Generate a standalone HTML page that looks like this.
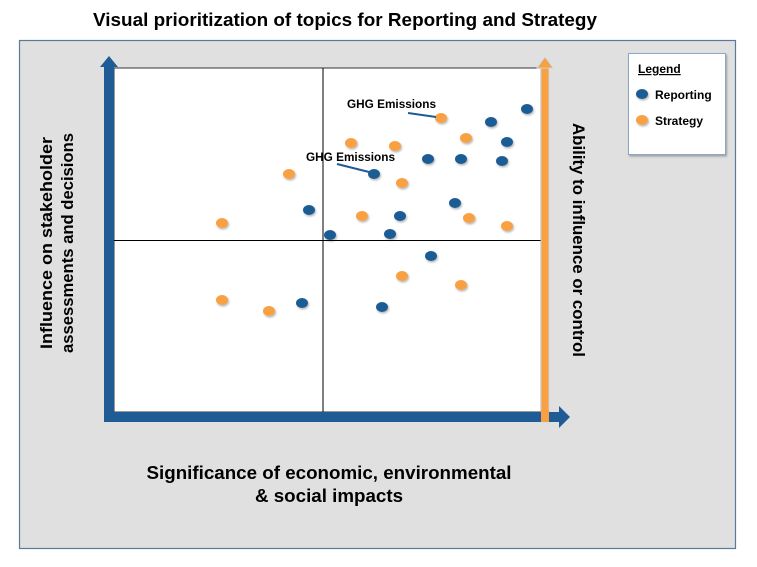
<!DOCTYPE html>
<html><head><style>
body{margin:0;background:#fff;}
svg text{font-family:"Liberation Sans",sans-serif;font-weight:bold;fill:#000;}
</style></head><body>
<svg width="757" height="562" viewBox="0 0 757 562" xmlns="http://www.w3.org/2000/svg">
<defs><filter id="sh" x="-50%" y="-50%" width="200%" height="200%"><feDropShadow dx="1" dy="1.5" stdDeviation="1" flood-color="#000" flood-opacity="0.3"/></filter></defs>
<text x="345" y="26" font-size="18.5" text-anchor="middle" textLength="504" lengthAdjust="spacingAndGlyphs">Visual prioritization of topics for Reporting and Strategy</text>
<rect x="19.5" y="40.5" width="716" height="508" fill="#e0e0e0" stroke="#5a7a9a" stroke-width="1.2"/>
<rect x="114" y="68" width="427" height="344" fill="#fff" stroke="#333" stroke-width="1"/>
<line x1="323" y1="68" x2="323" y2="412" stroke="#000" stroke-width="1"/>
<line x1="114" y1="240.5" x2="541" y2="240.5" stroke="#000" stroke-width="1"/>
<rect x="541" y="68" width="8" height="354" fill="#f9a043" stroke="#c8d8e8" stroke-width="0.8"/>
<polygon points="537,68 545,57 553,68" fill="#f9a043" stroke="#c8d8e8" stroke-width="0.8"/>
<rect x="104" y="66" width="10" height="356" fill="#1f5b94"/>
<polygon points="100,67 109,56 118,67" fill="#1f5b94"/>
<rect x="104" y="412" width="456" height="10" fill="#1f5b94"/>
<polygon points="559,406 570,417 559,428" fill="#1f5b94"/>
<rect x="541" y="410" width="8" height="12" fill="#f9a043"/>
<g filter="url(#sh)" fill="#1f5b94">
<ellipse cx="527" cy="109" rx="6" ry="5"/><ellipse cx="491" cy="122" rx="6" ry="5"/><ellipse cx="507" cy="142" rx="6" ry="5"/>
<ellipse cx="428" cy="159" rx="6" ry="5"/><ellipse cx="461" cy="159" rx="6" ry="5"/><ellipse cx="502" cy="161" rx="6" ry="5"/>
<ellipse cx="374" cy="174" rx="6" ry="5"/><ellipse cx="309" cy="210" rx="6" ry="5"/><ellipse cx="455" cy="203" rx="6" ry="5"/>
<ellipse cx="400" cy="216" rx="6" ry="5"/><ellipse cx="330" cy="235" rx="6" ry="5"/><ellipse cx="390" cy="234" rx="6" ry="5"/>
<ellipse cx="431" cy="256" rx="6" ry="5"/><ellipse cx="302" cy="303" rx="6" ry="5"/><ellipse cx="382" cy="307" rx="6" ry="5"/>
</g>
<g filter="url(#sh)" fill="#f9a043">
<ellipse cx="441" cy="118" rx="6" ry="5"/><ellipse cx="466" cy="138" rx="6" ry="5"/><ellipse cx="351" cy="143" rx="6" ry="5"/>
<ellipse cx="395" cy="146" rx="6" ry="5"/><ellipse cx="289" cy="174" rx="6" ry="5"/><ellipse cx="402" cy="183" rx="6" ry="5"/>
<ellipse cx="222" cy="223" rx="6" ry="5"/><ellipse cx="362" cy="216" rx="6" ry="5"/><ellipse cx="469" cy="218" rx="6" ry="5"/>
<ellipse cx="507" cy="226" rx="6" ry="5"/><ellipse cx="402" cy="276" rx="6" ry="5"/><ellipse cx="461" cy="285" rx="6" ry="5"/>
<ellipse cx="222" cy="300" rx="6" ry="5"/><ellipse cx="269" cy="311" rx="6" ry="5"/>
</g>
<text x="347" y="108" font-size="11.5" textLength="89" lengthAdjust="spacingAndGlyphs">GHG Emissions</text>
<line x1="408" y1="113" x2="436" y2="117" stroke="#1f5b94" stroke-width="2"/>
<text x="306" y="161" font-size="11.5" textLength="89" lengthAdjust="spacingAndGlyphs">GHG Emissions</text>
<line x1="337" y1="164" x2="369" y2="172" stroke="#1f5b94" stroke-width="2"/>
<text transform="translate(52,243) rotate(-90)" font-size="17" text-anchor="middle" textLength="212" lengthAdjust="spacingAndGlyphs">Influence on stakeholder</text>
<text transform="translate(73,243) rotate(-90)" font-size="17" text-anchor="middle" textLength="220" lengthAdjust="spacingAndGlyphs">assessments and decisions</text>
<text transform="translate(573,240) rotate(90)" font-size="17" text-anchor="middle" textLength="234" lengthAdjust="spacingAndGlyphs">Ability to influence or control</text>
<text x="329" y="479" font-size="18" text-anchor="middle" textLength="365" lengthAdjust="spacingAndGlyphs">Significance of economic, environmental</text>
<text x="329" y="502" font-size="18" text-anchor="middle" textLength="148" lengthAdjust="spacingAndGlyphs">&amp; social impacts</text>
<rect x="628.5" y="53.5" width="97" height="101" fill="#fff" stroke="#8aa8c8" stroke-width="1" filter="url(#sh)"/>
<text x="638" y="73" font-size="12" text-decoration="underline">Legend</text>
<ellipse cx="642" cy="94" rx="6" ry="5" fill="#1f5b94" filter="url(#sh)"/>
<text x="655" y="99" font-size="12">Reporting</text>
<ellipse cx="642" cy="120" rx="6" ry="5" fill="#f9a043" filter="url(#sh)"/>
<text x="655" y="125" font-size="12">Strategy</text>
</svg>
</body></html>
